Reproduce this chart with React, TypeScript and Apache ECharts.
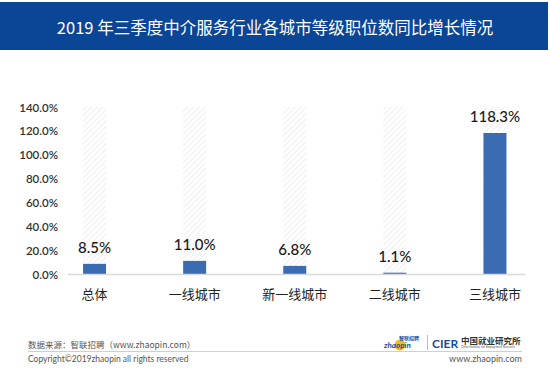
import React, { useEffect, useRef } from "react";
import * as echarts from "echarts";

const title = "2019 年三季度中介服务行业各城市等级职位数同比增长情况";
const categories = ["总体", "一线城市", "新一线城市", "二线城市", "三线城市"];
const growth = [8.5, 11.0, 6.8, 1.1, 118.3];
const backgroundMax = [140, 140, 140, 140, 140];
const yMin = 0;
const yMax = 140;
const yStep = 20;
const sourceText = "数据来源：智联招聘（www.zhaopin.com）";
const copyrightText = "Copyright©2019zhaopin all rights reserved";
const siteText = "www.zhaopin.com";

export default function App() {
  const ref = useRef<HTMLDivElement>(null);
  useEffect(() => {
    if (!ref.current) return;
    const chart = echarts.init(ref.current, null, { renderer: "svg" });
    const latin = "Lato, 'Noto Sans', sans-serif";
    const cjk = "'Noto Sans CJK SC', sans-serif";
    chart.setOption({
      animation: false,
      backgroundColor: "#ffffff",
      grid: { left: 44.5, right: 5, top: 107, bottom: 98, containLabel: false },
      xAxis: {
        type: "category",
        data: categories,
        axisLine: { show: false },
        axisTick: { show: false },
        axisLabel: { color: "#222", fontSize: 13, fontFamily: cjk, margin: 13 },
      },
      yAxis: {
        type: "value",
        min: yMin,
        max: yMax,
        interval: yStep,
        splitLine: { show: false },
        axisLine: { show: false },
        axisTick: { show: false },
        axisLabel: {
          color: "#333",
          fontSize: 11.5,
          fontFamily: latin,
          fontWeight: 600,
          margin: -13.5,
          formatter: (v: number) => v.toFixed(1) + "%",
        },
      },
      series: [
        {
          type: "bar",
          data: backgroundMax,
          barWidth: 23,
          barGap: "-100%",
          silent: true,
          z: 1,
          itemStyle: {
            color: "#ffffff",
            decal: {
              symbol: "rect",
              symbolSize: 1,
              dashArrayX: [1, 0],
              dashArrayY: [1, 2.5],
              rotation: -Math.PI / 4,
              color: "#eeeeee",
              backgroundColor: "#fefefe",
            },
          },
        },
        {
          type: "bar",
          data: growth,
          barWidth: 23,
          barGap: "-100%",
          z: 3,
          itemStyle: { color: "#3b6cb2" },
          label: {
            show: true,
            position: "top",
            distance: 9,
            color: "#1a1a1a",
            fontSize: 15,
            fontFamily: latin,
            fontWeight: 500,
            formatter: (p: any) => Number(p.value).toFixed(1) + "%",
          },
        },
      ],
      graphic: [
        { type: "rect", shape: { x: 0, y: 2, width: 548, height: 48 }, style: { fill: "#0b4596" } },
        {
          type: "text",
          x: 275,
          y: 27,
          style: { text: title, fill: "#ffffff", font: `16.5px ${cjk}`, align: "center", verticalAlign: "middle" },
        },
        { type: "line", shape: { x1: 68, y1: 274.5, x2: 525, y2: 274.5 }, style: { stroke: "#d9d9d9", lineWidth: 1.5 }, z: 10 },
        {
          type: "text",
          x: 28,
          y: 344,
          style: { text: sourceText, fill: "#555", font: `8.5px ${cjk}`, verticalAlign: "middle" },
        },
        { type: "line", shape: { x1: 28, y1: 351.5, x2: 522, y2: 351.5 }, style: { stroke: "#cfcfcf", lineWidth: 1 } },
        {
          type: "text",
          x: 28,
          y: 359,
          style: { text: copyrightText, fill: "#555", font: `8.5px ${latin}`, verticalAlign: "middle" },
        },
        {
          type: "text",
          x: 522,
          y: 358,
          style: { text: siteText, fill: "#555", font: `9px ${latin}`, align: "right", verticalAlign: "middle" },
        },
        { type: "circle", shape: { cx: 400, cy: 345, r: 5.5 }, style: { fill: "#f5c000" } },
        {
          type: "text",
          x: 384,
          y: 344.5,
          style: { text: "zhaopin", fill: "#1c4fa0", font: `italic bold 8px ${latin}`, verticalAlign: "middle" },
        },
        {
          type: "text",
          x: 399,
          y: 337,
          style: { text: "智联招聘", fill: "#1c4fa0", font: `bold 5px ${cjk}`, verticalAlign: "middle" },
        },
        { type: "line", shape: { x1: 427.5, y1: 335, x2: 427.5, y2: 350 }, style: { stroke: "#bbb", lineWidth: 1 } },
        {
          type: "text",
          x: 432,
          y: 343,
          style: { text: "CIER", fill: "#1b4b9b", font: `bold 12px ${latin}`, verticalAlign: "middle" },
        },
        {
          type: "text",
          x: 461,
          y: 340,
          style: { text: "中国就业研究所", fill: "#333", font: `bold 8.5px ${cjk}`, verticalAlign: "middle" },
        },
        {
          type: "text",
          x: 461,
          y: 347,
          style: { text: "China Institute for Employment Research", fill: "#555", font: `3px ${latin}`, verticalAlign: "middle" },
        },
      ],
    });
    return () => chart.dispose();
  }, []);
  return (
    <div
      ref={ref}
      style={{ position: "fixed", left: 0, top: 0, width: 550, height: 372 }}
    />
  );
}
